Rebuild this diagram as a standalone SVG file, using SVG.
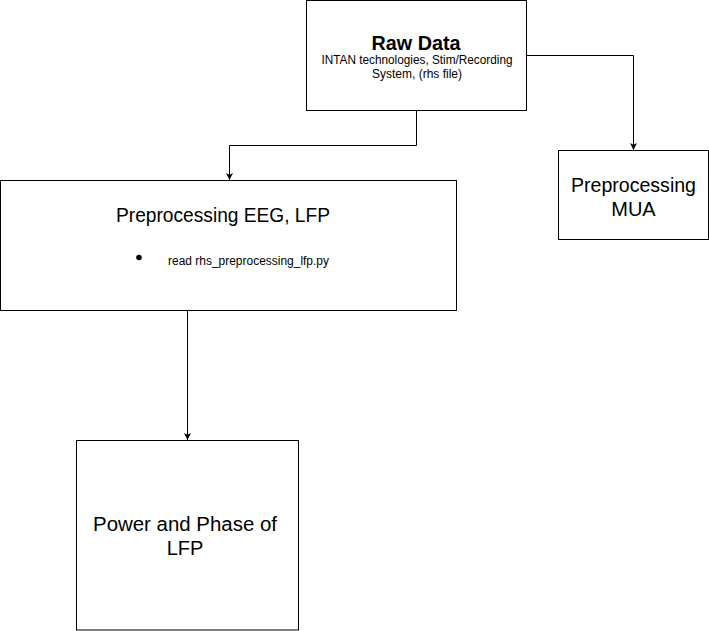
<svg xmlns="http://www.w3.org/2000/svg" width="709" height="631" viewBox="0 0 709 631">
<style>
.box{fill:#fff;stroke:#000;stroke-width:1}
.edge{fill:none;stroke:#000;stroke-width:1}
text{font-family:"Liberation Sans",Arial,sans-serif;fill:#000;text-anchor:middle}
.big{font-size:20px}
.small{font-size:12px}
</style>
<defs>
<marker id="arr" viewBox="0 0 10 10" refX="10" refY="5" markerWidth="7" markerHeight="7" markerUnits="userSpaceOnUse" orient="auto">
<path d="M0,0 L10,5 L0,10 L2.5,5 Z" fill="#000"/>
</marker>
</defs>
<rect width="709" height="631" fill="#fff"/>
<g id="connectors">
<path class="edge" d="M416.5,110.5 V145.5 H229.5 V180" marker-end="url(#arr)"/>
<path class="edge" d="M526.5,55.5 H633.5 V150" marker-end="url(#arr)"/>
<path class="edge" d="M187.5,310.5 V440" marker-end="url(#arr)"/>
</g>
<g id="raw-data">
<rect class="box" x="306.5" y="0.5" width="220" height="110"/>
<text x="416" y="50" style="font-size:20px;font-weight:bold" textLength="89" lengthAdjust="spacingAndGlyphs">Raw Data</text>
<text class="small" x="417" y="64" textLength="191" lengthAdjust="spacingAndGlyphs">INTAN technologies, Stim/Recording</text>
<text class="small" x="417" y="78">System, (rhs file)</text>
</g>
<g id="preprocessing-eeg-lfp">
<rect class="box" x="0.5" y="180.5" width="456" height="130"/>
<text class="big" x="223" y="222" textLength="214" lengthAdjust="spacingAndGlyphs">Preprocessing EEG, LFP</text>
<circle cx="139" cy="257.5" r="2.8" fill="#000"/>
<text class="small" x="168" y="265" style="text-anchor:start" textLength="161" lengthAdjust="spacingAndGlyphs">read rhs_preprocessing_lfp.py</text>
</g>
<g id="preprocessing-mua">
<rect class="box" x="558.5" y="150.5" width="150" height="89"/>
<text class="big" x="633.5" y="192" textLength="125" lengthAdjust="spacingAndGlyphs">Preprocessing</text>
<text class="big" x="633.5" y="216">MUA</text>
</g>
<g id="power-phase-lfp">
<rect class="box" x="76.5" y="440.5" width="222" height="189.5"/>
<text class="big" x="185" y="531" textLength="184" lengthAdjust="spacingAndGlyphs">Power and Phase of</text>
<text class="big" x="185" y="555">LFP</text>
</g>
</svg>
